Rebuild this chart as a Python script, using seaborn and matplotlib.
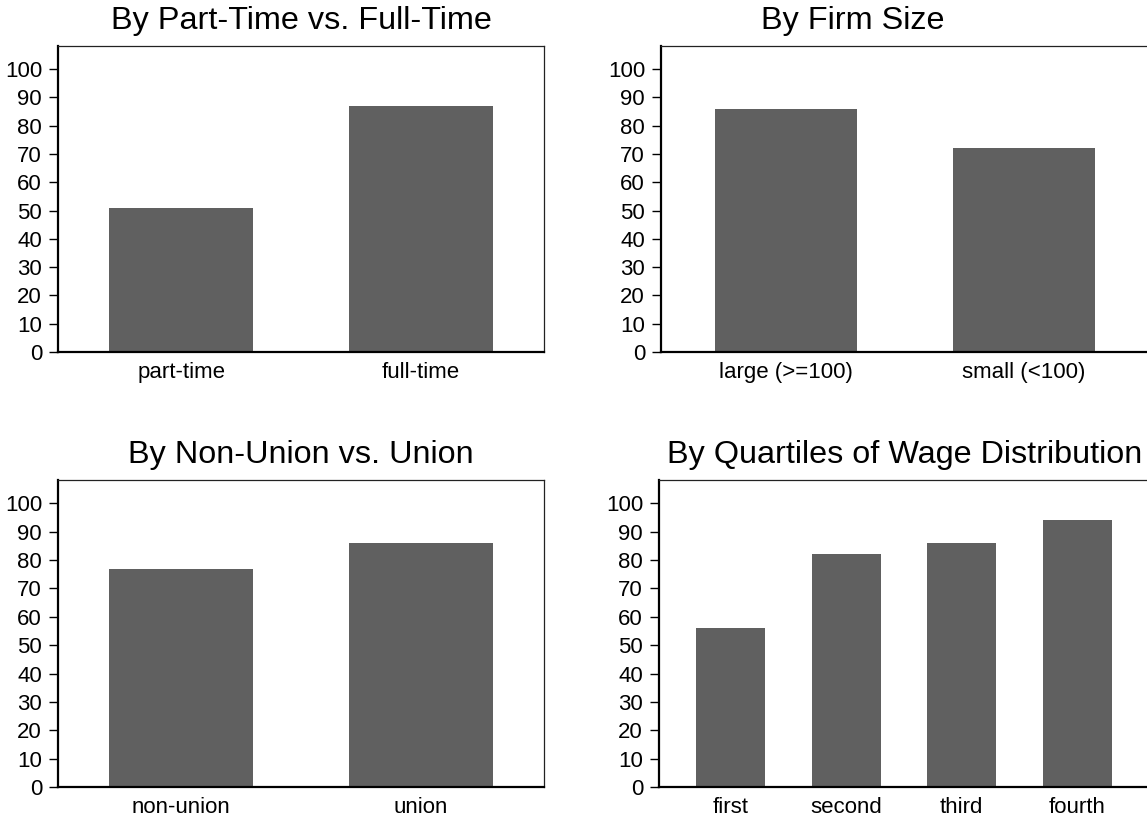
import matplotlib
matplotlib.use("Agg")
import matplotlib.pyplot as plt
import seaborn as sns

# values (percent)
hours_labels = ["part-time", "full-time"]
hours_values = [51, 87]

size_labels = ["large (>=100)", "small (<100)"]
size_values = [86, 72]

union_labels = ["non-union", "union"]
union_values = [77, 86]

wage_labels = ["first", "second", "third", "fourth"]
wage_values = [56, 82, 86, 94]

y_ticks = list(range(0, 101, 10))

sns.set_style("white")
plt.rcParams["font.family"] = ["Liberation Sans", "DejaVu Sans"]

W, H = 1147, 818
fig = plt.figure(figsize=(W / 100, H / 100), dpi=100)


def px_axes(x0, y0, x1, y1):
    # pixel box (top-left origin) -> figure fraction
    return fig.add_axes([x0 / W, (H - y1) / H, (x1 - x0) / W, (y1 - y0) / H])


def bar_panel(ax, labels, values, title, title_x, title_y, xpad):
    sns.barplot(x=labels, y=values, ax=ax, color="#606060", saturation=1,
                width=0.6, order=labels, linewidth=0)
    ax.set_ylim(0, 108.2)
    ax.set_xlim(-xpad, len(labels) - 1 + xpad)
    ax.set_yticks(y_ticks)
    ax.tick_params(axis="y", length=6.5, width=1, labelsize=16, pad=5,
                   direction="out", left=True, colors="black")
    ax.tick_params(axis="x", length=0, labelsize=16, pad=7.5, colors="black")
    for side in ["left", "bottom"]:
        ax.spines[side].set_linewidth(1.6)
        ax.spines[side].set_color("black")
    for side in ["top", "right"]:
        ax.spines[side].set_linewidth(0.9)
        ax.spines[side].set_color("#222222")
    ax.set_xlabel("")
    ax.set_ylabel("")
    fig.text(title_x / W, 1 - title_y / H, title, ha="center", va="baseline",
             fontsize=23.3, color="black")


ax1 = px_axes(58, 46, 544, 352)
bar_panel(ax1, hours_labels, hours_values, "By Part-Time vs. Full-Time", 301, 29, 0.515)

ax2 = px_axes(661, 46, 1149, 352)
bar_panel(ax2, size_labels, size_values, "By Firm Size", 853, 29, 0.525)

ax3 = px_axes(58, 480, 544, 787)
bar_panel(ax3, union_labels, union_values, "By Non-Union vs. Union", 301, 463, 0.515)

ax4 = px_axes(659, 480, 1149, 787)
bar_panel(ax4, wage_labels, wage_values, "By Quartiles of Wage Distribution", 905, 463, 0.62)

fig.savefig("out.png", dpi=100, facecolor="white")
